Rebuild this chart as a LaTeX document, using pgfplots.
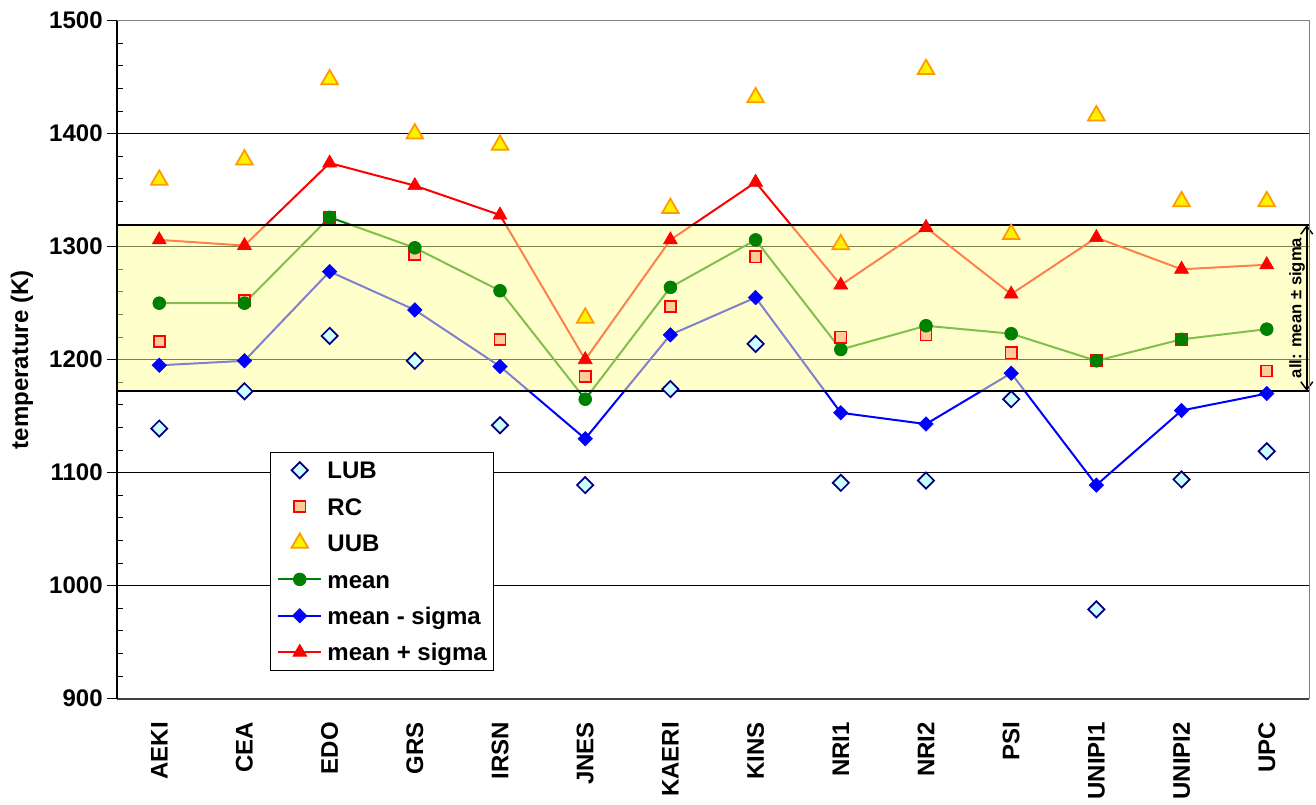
\documentclass[border=0pt]{standalone}
\usepackage{pgfplots}
\usepackage{pgfplotstable}
\pgfplotsset{compat=1.18}
\usetikzlibrary{arrows.meta}
\usepackage{fontspec}
\setmainfont{Liberation Sans}

\definecolor{lubfill}{HTML}{CCFFFF}
\definecolor{lubdraw}{HTML}{000080}
\definecolor{rcfill}{HTML}{FFCC99}
\definecolor{uubdraw}{HTML}{FF9900}
\definecolor{meangreen}{HTML}{008000}
\definecolor{bandfill}{HTML}{FFFF99}

\pgfplotsset{myleg/.style={legend image code/.code={\draw[mark repeat=2,mark phase=2,##1] plot coordinates {(0pt,0pt) (16.25pt,0pt) (32.5pt,0pt)};}}}

\pgfplotstableread{
x  LUB  RC   UUB  mean msig psig
0  1139 1216 1359 1250 1195 1306
1  1172 1252 1377 1250 1199 1301
2  1221 1326 1448 1326 1278 1374
3  1199 1293 1400 1299 1244 1354
4  1142 1218 1390 1261 1194 1328
5  1089 1185 1237 1165 1130 1200
6  1174 1247 1334 1264 1222 1306
7  1214 1291 1432 1306 1255 1357
8  1091 1220 1302 1209 1153 1266
9  1093 1222 1457 1230 1143 1317
10 1165 1206 1311 1223 1188 1258
11 979  1199 1416 1199 1089 1308
12 1094 1218 1340 1218 1155 1280
13 1119 1190 1340 1227 1170 1284
}\data

\begin{document}
\begin{tikzpicture}
\useasboundingbox (-87.5pt,-79pt) rectangle (899.5pt,524pt);
\begin{axis}[
  at={(0pt,0pt)}, anchor=south west,
  scale only axis, width=894.5pt, height=508.5pt,
  clip=false,
  xmin=-0.5, xmax=13.5, ymin=900, ymax=1500,
  xtick={0,...,13},
  xticklabels={AEKI,CEA,EDO,GRS,IRSN,JNES,KAERI,KINS,NRI1,NRI2,PSI,UNIPI1,UNIPI2,UPC},
  x tick style={draw=none},
  ytick={900,1000,...,1500},
  minor y tick num=4,
  ytick pos=left, xtick pos=bottom,
  tick align=outside,
  major tick length=7pt, minor tick length=4.5pt,
  minor y tick style={xshift=4.5pt},
  y tick style={black, line width=0.8pt},
  axis line style={draw=none},
  ymajorgrids, major grid style={black, line width=1.1pt},
  tick label style={font=\fontsize{18}{21}\selectfont\bfseries},
  /pgf/number format/assume math mode=true,
  /pgf/number format/1000 sep={},
  xticklabel style={yshift=-7pt, rotate=90, anchor=east},
  ylabel={temperature (K)},
  ylabel style={font=\fontsize{18}{21}\selectfont\bfseries, at={(axis description cs:-0.0794,0.5)}, anchor=center},
  legend style={at={(0.1285,0.3643)}, anchor=north west, draw=black, line width=0.8pt, fill=white,
    font=\fontsize{18}{21}\selectfont\bfseries, inner xsep=5pt, inner ysep=3pt, row sep=6.3pt, column sep=3.75pt,
    nodes={inner xsep=0pt, inner ysep=2pt, text height=15pt, text depth=2pt}},
  legend cell align=left,
]
\addplot[only marks, mark=square*, mark size=4.3pt, mark options={rotate=45, fill=lubfill, draw=lubdraw, line width=1.3pt}, myleg] table[x=x, y=LUB] {\data};
\addlegendentry{LUB}
\addplot[only marks, mark=square*, mark size=4.2pt, mark options={fill=rcfill, draw=red, line width=1.3pt}, myleg] table[x=x, y=RC] {\data};
\addlegendentry{RC}
\addplot[only marks, mark=triangle*, mark size=7.2pt, mark options={fill=yellow, draw=uubdraw, line width=1.3pt}, myleg] table[x=x, y=UUB] {\data};
\addlegendentry{UUB}
\addplot[meangreen, line width=1.5pt, mark=*, mark size=4.8pt, mark options={solid, line width=0.5pt}, myleg] table[x=x, y=mean] {\data};
\addlegendentry{mean}
\addplot[blue, line width=1.5pt, mark=square*, mark size=3.8pt, mark options={solid, rotate=45, line width=0.5pt}, myleg] table[x=x, y=msig] {\data};
\addlegendentry{mean - sigma}
\addplot[red, line width=1.5pt, mark=triangle*, mark size=6pt, mark options={solid, line width=0.5pt}, myleg] table[x=x, y=psig] {\data};
\addlegendentry{mean + sigma}
% band: all mean +/- sigma
\draw[fill=bandfill, fill opacity=0.5, draw=black, line width=1.1pt] (axis cs:-0.5,1172.3) rectangle (axis cs:13.5,1319.2);
\draw[{Straight Barb[length=6pt,width=9pt]}-{Straight Barb[length=6pt,width=9pt]}, line width=1.1pt] (axis cs:13.47,1172.3) -- (axis cs:13.47,1319.2);
\node[rotate=90, font=\fontsize{12.5}{15}\selectfont\bfseries] at (axis cs:13.355,1245.75) {all: mean ± sigma};
% frame
\draw[gray, line width=1pt] (rel axis cs:0,1) -- (rel axis cs:1,1) -- (rel axis cs:1,0);
\draw[black!75, line width=1.5pt] (rel axis cs:0,0) -- (rel axis cs:1,0);
\draw[black, line width=1.5pt] (rel axis cs:0,0) -- (rel axis cs:0,1);
\end{axis}
\end{tikzpicture}
\end{document}
